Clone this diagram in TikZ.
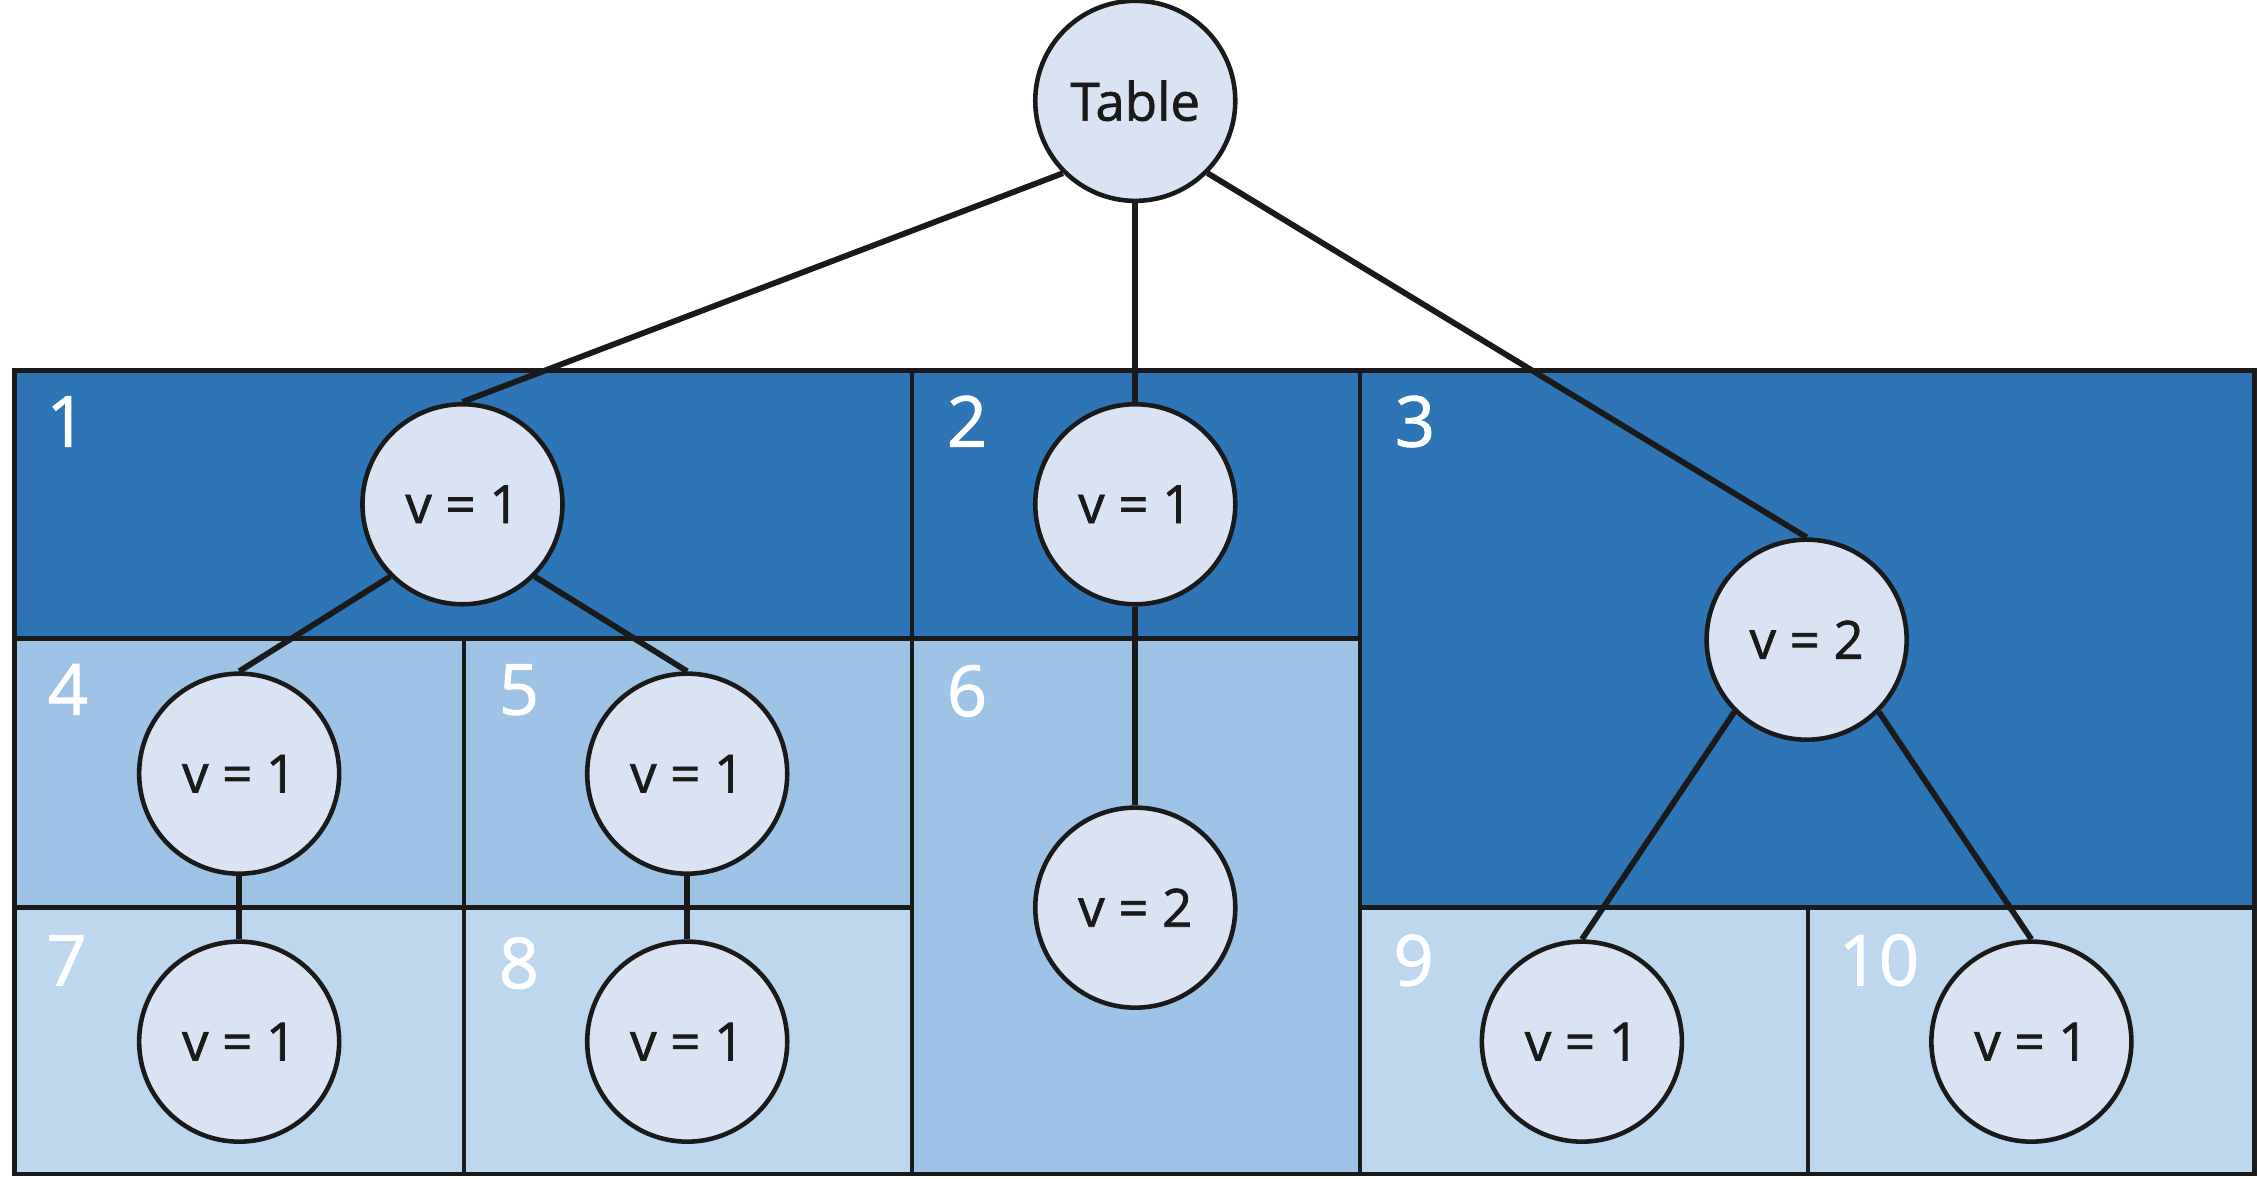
\documentclass[tikz,border=0pt]{standalone}
\usepackage{fontspec}
\setmainfont{Open Sans}
\newfontfamily\semib{Open Sans}[FakeBold=1.3]
\definecolor{dark}{HTML}{2E75B6}
\definecolor{medium}{HTML}{9DC3E6}
\definecolor{light}{HTML}{BDD7EE}
\definecolor{cfill}{HTML}{DAE3F3}
\definecolor{ink}{HTML}{1A1A1A}
\pgfdeclarelayer{cells}
\pgfdeclarelayer{links}
\pgfsetlayers{cells,links,main}
\begin{document}
\begin{tikzpicture}[x=0.028814cm,y=-0.028814cm,
  vnode/.style={circle,draw=ink,fill=cfill,line width=2.6pt,minimum size=4cm,inner sep=0pt,text=ink,font=\semib\fontsize{30}{36}\selectfont},
  link/.style={draw=ink,line width=3.3pt},
  cellnum/.style={anchor=base west,inner sep=0pt,text=white,font=\semib\fontsize{40}{48}\selectfont},
  gridline/.style={draw=ink,line width=2.6pt}]
\useasboundingbox (0,0) rectangle (1568,818);
% nodes
\node[vnode] (T) at (788,70) {Table};
\node[vnode] (n1) at (321,350) {v = 1};
\node[vnode] (n2) at (788,350) {v = 1};
\node[vnode] (n3) at (1254,444) {v = 2};
\node[vnode] (n4) at (166,537) {v = 1};
\node[vnode] (n5) at (477,537) {v = 1};
\node[vnode] (n6) at (788,630) {v = 2};
\node[vnode] (n7) at (166,723) {v = 1};
\node[vnode] (n8) at (477,723) {v = 1};
\node[vnode] (n9) at (1098,723) {v = 1};
\node[vnode] (n10) at (1410,723) {v = 1};
% cell numbers
\node[cellnum] (c1) at (32,310) {1};
\node[cellnum] (c2) at (657,310) {2};
\node[cellnum] (c3) at (968,310) {3};
\node[cellnum] (c4) at (33,496) {4};
\node[cellnum] (c5) at (346,496) {5};
\node[cellnum] (c6) at (657,497) {6};
\node[cellnum] (c7) at (32,684) {7};
\node[cellnum] (c8) at (346,686) {8};
\node[cellnum] (c9) at (967,684) {9};
\node[cellnum] (c10) at (1276,684) {10};
\begin{pgfonlayer}{cells}
\fill[dark] (10,257) rectangle (944,443);
\fill[dark] (944,257) rectangle (1565,630);
\fill[medium] (10,443) rectangle (633,630);
\fill[medium] (633,443) rectangle (944,815);
\fill[light] (10,630) rectangle (633,815);
\fill[light] (944,630) rectangle (1565,815);
\draw[gridline] (10,257) rectangle (1565,815);
\draw[gridline] (10,443) -- (944,443);
\draw[gridline] (10,630) -- (633,630);
\draw[gridline] (944,630) -- (1565,630);
\draw[gridline] (322,443) -- (322,815);
\draw[gridline] (633,257) -- (633,815);
\draw[gridline] (944,257) -- (944,815);
\draw[gridline] (1255,630) -- (1255,815);
\end{pgfonlayer}
\begin{pgfonlayer}{links}
\draw[link] (T.south west) -- (n1.north);
\draw[link] (T.south) -- (n2.north);
\draw[link] (T.south east) -- (n3.north);
\draw[link] (n1.south west) -- (n4.north);
\draw[link] (n1.south east) -- (n5.north);
\draw[link] (n2.south) -- (n6.north);
\draw[link] (n4.south) -- (n7.north);
\draw[link] (n5.south) -- (n8.north);
\draw[link] (n3.south west) -- (n9.north);
\draw[link] (n3.south east) -- (n10.north);
\end{pgfonlayer}
\end{tikzpicture}
\end{document}
